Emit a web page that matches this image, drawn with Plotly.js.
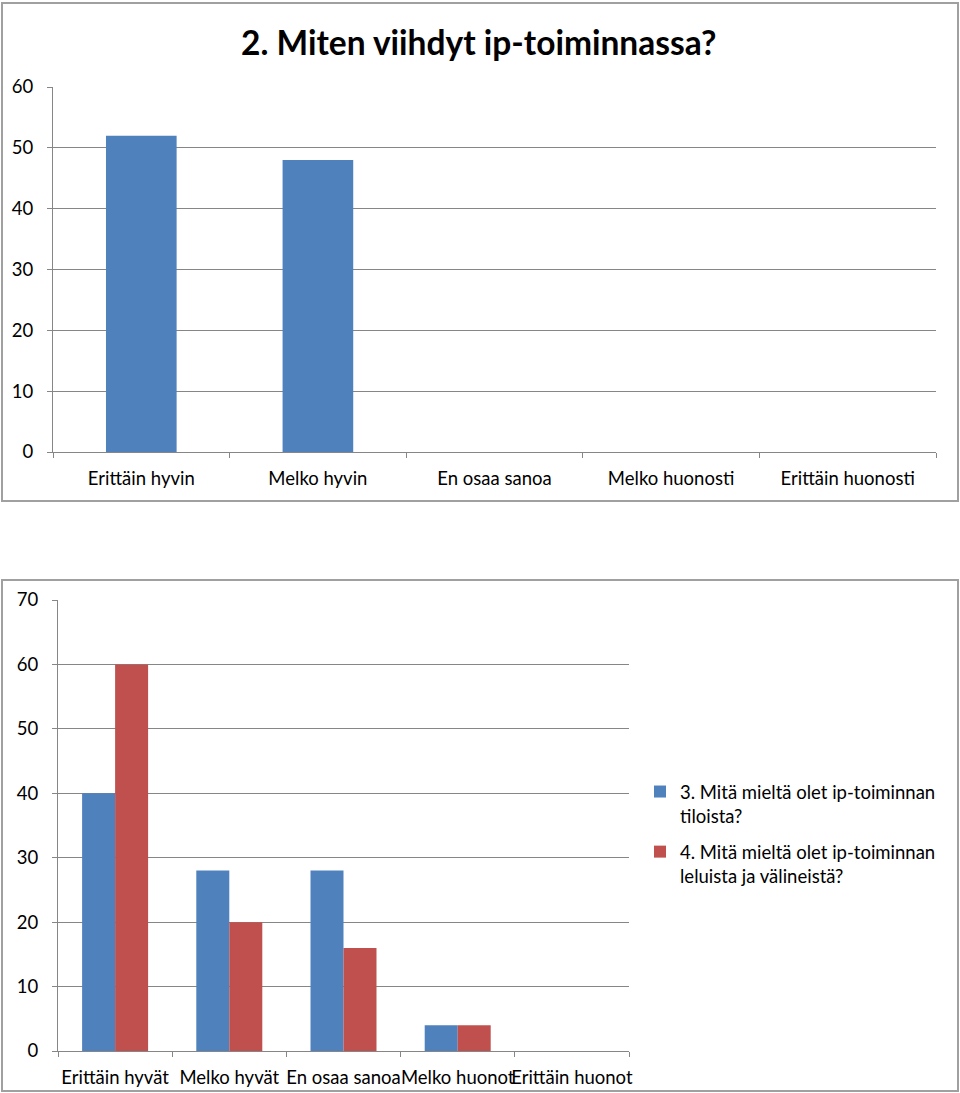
<!DOCTYPE html>
<html>
<head>
<meta charset="utf-8">
<script src="https://cdn.plot.ly/plotly-3.0.1.min.js"></script>
<style>html,body{margin:0;padding:0;background:#fff;}#chart{width:960px;height:1093px;}</style>
</head>
<body>
<div id="chart"></div>
<script>
// Chart 1 data
const title1 = "2. Miten viihdyt ip-toiminnassa?";
const categories1 = ["Erittäin hyvin", "Melko hyvin", "En osaa sanoa", "Melko huonosti", "Erittäin huonosti"];
const values1 = [52, 48, 0, 0, 0];

// Chart 2 data
const categories2 = ["Erittäin hyvät", "Melko hyvät", "En osaa sanoa", "Melko huonot", "Erittäin huonot"];
const seriesName3 = "3. Mitä mieltä olet ip-toiminnan<br>tiloista?";
const seriesName4 = "4. Mitä mieltä olet ip-toiminnan<br>leluista ja välineistä?";
const values3 = [40, 28, 28, 4, 0];
const values4 = [60, 20, 16, 4, 0];

const W = 960, H = 1093;
const px = v => v / W;
const py = v => 1 - v / H;

const FONT = "Lato, 'Open Sans', sans-serif";
const FS = 18.5;
const BLUE = "#4F81BD", RED = "#C0504D", GRID = "#868686";

const traces = [
  {type: "bar", x: categories1, y: values1, xaxis: "x", yaxis: "y",
   marker: {color: BLUE}, width: 0.4, offset: -0.2, showlegend: false, hoverinfo: "skip"},
  {type: "bar", x: categories2, y: values3, xaxis: "x2", yaxis: "y2", name: seriesName3,
   legendgroup: "a", marker: {color: BLUE}, width: 0.289, offset: -0.289},
  {type: "bar", x: categories2, y: values4, xaxis: "x2", yaxis: "y2", name: seriesName4,
   legendgroup: "b", marker: {color: RED}, width: 0.289, offset: 0}
];

const yBase = {
  showline: true, linecolor: GRID, linewidth: 1,
  showgrid: true, gridcolor: GRID, gridwidth: 1,
  ticks: "outside", ticklen: 5, tickcolor: GRID, dtick: 10,
  zeroline: false, fixedrange: true, ticklabelstandoff: 10,
  tickfont: {family: FONT, size: FS, color: "#000"}
};
const xBase = {
  type: "category", showline: true, linecolor: GRID, linewidth: 1,
  showgrid: false, ticks: "outside", ticklen: 5, tickcolor: GRID,
  tickson: "boundaries", tickangle: 0, fixedrange: true, ticklabelstandoff: 10,
  tickfont: {family: FONT, size: FS, color: "#000"}
};

const layout = {
  width: W, height: H,
  margin: {l: 0, r: 0, t: 0, b: 0},
  paper_bgcolor: "#fff", plot_bgcolor: "rgba(0,0,0,0)",
  barmode: "overlay",
  font: {family: FONT, size: FS, color: "#000"},
  xaxis: Object.assign({}, xBase, {domain: [px(53), px(936)], anchor: "y"}),
  yaxis: Object.assign({}, yBase, {domain: [py(452), py(87)], range: [0, 60], anchor: "x"}),
  xaxis2: Object.assign({}, xBase, {domain: [px(58), px(629)], anchor: "y2"}),
  yaxis2: Object.assign({}, yBase, {domain: [py(1051), py(600)], range: [0, 70], anchor: "x2"}),
  showlegend: true,
  legend: {
    x: px(640), y: py(773), xanchor: "left", yanchor: "top",
    font: {family: FONT, size: FS, color: "#000"},
    valign: "top", tracegroupgap: 9, bgcolor: "rgba(0,0,0,0)"
  },
  annotations: [
    {text: title1, xref: "paper", yref: "paper", x: px(478), y: py(42),
     xanchor: "center", yanchor: "middle", showarrow: false,
     font: {family: FONT, size: 33.5, color: "#000", weight: "bold"}}
  ],
  shapes: [
    {type: "rect", xref: "paper", yref: "paper", x0: px(2), x1: px(958), y0: py(501), y1: py(3),
     line: {color: "#a0a0a0", width: 2}},
    {type: "rect", xref: "paper", yref: "paper", x0: px(2), x1: px(958), y0: py(1091), y1: py(580),
     line: {color: "#a0a0a0", width: 2}}
  ]
};

Plotly.newPlot("chart", traces, layout, {displayModeBar: false, staticPlot: true});
</script>
</body>
</html>
